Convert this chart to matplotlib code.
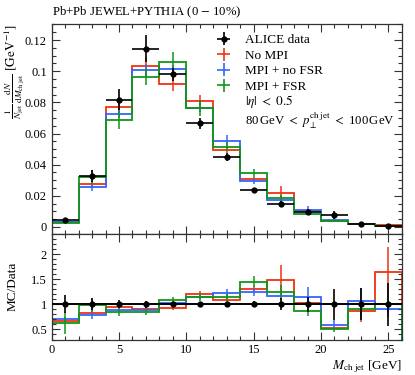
import numpy as np
import matplotlib
matplotlib.use('Agg')
import matplotlib.pyplot as plt
from matplotlib.ticker import MultipleLocator, FixedLocator, NullFormatter

# ---------------- data ----------------
edges = [0, 2, 4, 6, 8, 10, 12, 14, 16, 18, 20, 22, 24, 26]
data = [0.0045, 0.0329, 0.0818, 0.1145, 0.0979, 0.0665, 0.0451, 0.0237, 0.0147, 0.0098, 0.0077, 0.0019, 0.0006]
data_err = [0.0008, 0.0039, 0.0065, 0.0085, 0.0039, 0.0033, 0.0025, 0.0014, 0.0018, 0.0015, 0.0024, 0.0006, 0.00026]

no_mpi = [0.0030, 0.0273, 0.0769, 0.1031, 0.0917, 0.0808, 0.0494, 0.0308, 0.0219, 0.0100, 0.0040, 0.00165, 0.00099]
no_mpi_err = [0.0002, 0.0016, 0.0030, 0.0060, 0.0043, 0.0040, 0.0020, 0.0015, 0.0042, 0.0008, 0.0003, 0.0004, 0.0003]

mpi_nofsr = [0.00315, 0.0257, 0.0728, 0.1008, 0.1013, 0.0767, 0.0553, 0.0296, 0.0172, 0.0112, 0.0045, 0.00203, 0.00055]
mpi_nofsr_err = [0.0002, 0.0026, 0.0030, 0.0040, 0.0030, 0.0030, 0.0037, 0.0019, 0.0012, 0.0020, 0.0008, 0.0005, 0.0001]

mpi_fsr = [0.0028, 0.0322, 0.0687, 0.0962, 0.1060, 0.0763, 0.0515, 0.0344, 0.0184, 0.0085, 0.0039, 0.00172, 0.0006]
mpi_fsr_err = [0.0010, 0.0043, 0.0060, 0.0050, 0.0064, 0.0053, 0.0030, 0.0026, 0.0019, 0.0010, 0.0004, 0.0003, 0.0001]

labels = ["ALICE data", "No MPI", "MPI + no FSR", "MPI + FSR"]
colors = ["black", "#EE3311", "#3366FF", "#109618"]
main_yticks = [0, 0.02, 0.04, 0.06, 0.08, 0.1, 0.12]
main_yticklabels = ["0", "0.02", "0.04", "0.06", "0.08", "0.1", "0.12"]
ratio_yticks = [0.5, 1, 1.5, 2]
ratio_yticklabels = ["0.5", "1", "1.5", "2"]
xticks = [0, 5, 10, 15, 20, 25]

# ---------------- style ----------------
plt.rcParams['font.family'] = ['Liberation Serif', 'DejaVu Serif']
plt.rcParams['mathtext.fontset'] = 'stix'

W, H = 415, 375
fig = plt.figure(figsize=(W / 100, H / 100), dpi=100)
L, R = 51.7, 401.8
def axrect(top, bot):
    return [L / W, 1 - bot / H, (R - L) / W, (bot - top) / H]
ax = fig.add_axes(axrect(24, 234))
rax = fig.add_axes(axrect(234, 339.5))

edges_a = np.array(edges, dtype=float)
centers = 0.5 * (edges_a[1:] + edges_a[:-1])
halfw = 0.5 * (edges_a[1:] - edges_a[:-1])
d = np.array(data)
de = np.array(data_err)

mc = [(no_mpi, no_mpi_err), (mpi_nofsr, mpi_nofsr_err), (mpi_fsr, mpi_fsr_err)]
for (vals, errs), col in zip(mc, colors[1:]):
    v = np.array(vals); e = np.array(errs)
    ax.stairs(v, edges_a, color=col, lw=1.3)
    ax.errorbar(centers, v, yerr=e, fmt='none', ecolor=col, elinewidth=1.1, capsize=0)
    rax.stairs(v / d, edges_a, color=col, lw=1.3)
    rax.errorbar(centers, v / d, yerr=e / d, fmt='none', ecolor=col, elinewidth=1.1, capsize=0)

hd = ax.errorbar(centers, d, xerr=halfw, yerr=de, fmt='o', color='black', ms=3.5,
                 elinewidth=1.2, capsize=0, zorder=5)
rax.errorbar(centers, np.ones_like(d), xerr=halfw, yerr=de / d, fmt='o', color='black',
             ms=3.5, elinewidth=1.2, capsize=0, zorder=5)
rax.axhline(1.0, color='black', lw=1.2, zorder=4)

leg_handles = [hd]
for col in colors[1:]:
    leg_handles.append(ax.errorbar([np.nan], [np.nan], xerr=[1], yerr=[1], fmt='none',
                                   ecolor=col, elinewidth=1.2, capsize=0))
ax.legend(leg_handles, labels, loc='upper left', frameon=False, fontsize=9.5,
          bbox_to_anchor=(209 / W, 1 - 34 / H), bbox_transform=fig.transFigure,
          borderpad=0, borderaxespad=0, handlelength=2.2, handletextpad=0.55,
          labelspacing=0.25)

ax.text(245 / W, 1 - 101.5 / H, r"$|\eta|\ <\ 0.5$", transform=fig.transFigure,
        fontsize=9.5, va='center', ha='left')
ax.text(245 / W, 1 - 120.5 / H, r"80$\,$GeV $<$ $p_\perp^{\mathrm{ch}\ \mathrm{jet}}$ $<$ 100$\,$GeV",
        transform=fig.transFigure, fontsize=9.2, va='center', ha='left')

fig.text(L / W, 1 - 12 / H, "Pb+Pb JEWEL+PYTHIA (0 $-$ 10%)", fontsize=9.2,
         va='center', ha='left')

# axes
for a in (ax, rax):
    a.set_xlim(0, 26)
    a.xaxis.set_major_locator(FixedLocator(xticks))
    a.xaxis.set_minor_locator(MultipleLocator(1))
    a.tick_params(which='both', direction='in', top=True, right=True, labelsize=9,
                  color='#333333', width=0.8)
    a.tick_params(which='major', length=6)
    a.tick_params(which='minor', length=3)
    for s in a.spines.values():
        s.set_linewidth(0.9)
        s.set_color('#333333')

ax.set_ylim(-0.0045, 0.1303)
ax.yaxis.set_major_locator(FixedLocator(main_yticks))
ax.set_yticklabels(main_yticklabels)
ax.yaxis.set_minor_locator(MultipleLocator(0.005))
ax.xaxis.set_major_formatter(NullFormatter())

rax.set_ylim(0.3, 2.4)
rax.yaxis.set_major_locator(FixedLocator(ratio_yticks))
rax.set_yticklabels(ratio_yticklabels)
rax.yaxis.set_minor_locator(MultipleLocator(0.1))
rax.set_xticklabels([str(t) for t in xticks])

ax.set_ylabel(r"$\frac{1}{N_{\mathrm{jet}}}\,\frac{\mathrm{d}N}{\mathrm{d}M_{\mathrm{ch}\ \mathrm{jet}}}$ $[\mathrm{GeV}^{-1}]$",
              loc='top', fontsize=9.5)
ax.yaxis.set_label_coords(-0.074, 1.0)
rax.set_ylabel("MC/Data", fontsize=9.5)
rax.yaxis.set_label_coords(-0.095, 0.5)
rax.set_xlabel(r"$M_{\mathrm{ch}\ \mathrm{jet}}$ [GeV]", loc='right', fontsize=9.5)
rax.xaxis.set_label_coords(1.0, -0.18)

fig.savefig("out.png", dpi=100)
